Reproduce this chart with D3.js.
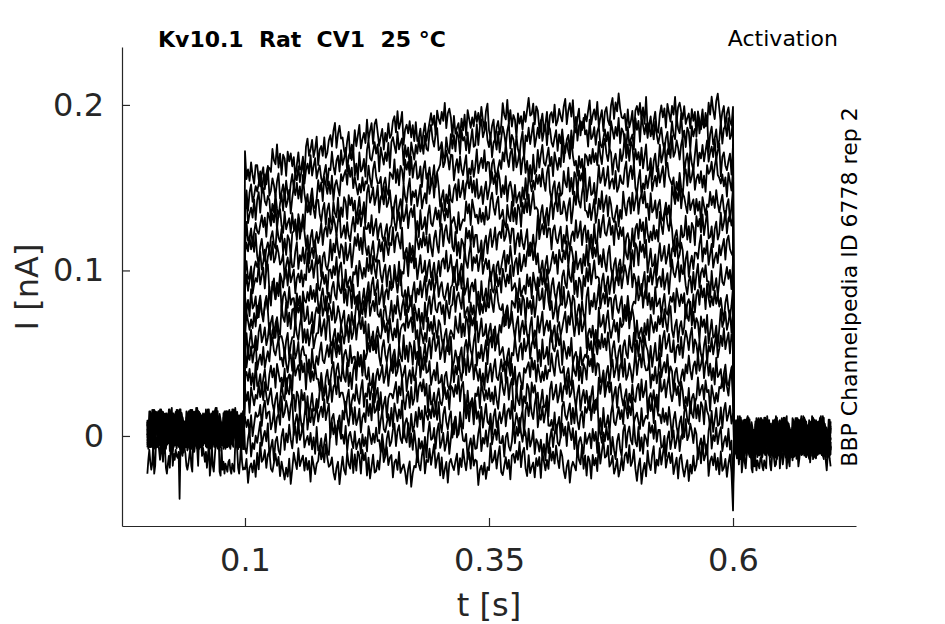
<!DOCTYPE html>
<html>
<head>
<meta charset="utf-8">
<script src="https://cdn.jsdelivr.net/npm/d3@7"></script>
<style>
  html, body { margin: 0; padding: 0; background: #fff; }
  svg { display: block; font-family: "DejaVu Sans", sans-serif; }
</style>
</head>
<body>
<svg id="chart" width="945" height="624"></svg>
<script>
// ---------- data ----------
const xTicks = [0.1, 0.35, 0.6];
const yTicks = [0, 0.1, 0.2];
const pulseKnotsT = [0.1, 0.15, 0.2, 0.3, 0.45, 0.6];   // s
const pulseLevels = [                                      // nA, one row per trace
  [0.156, 0.167, 0.178, 0.189, 0.193, 0.194],
  [0.146, 0.155, 0.165, 0.177, 0.182, 0.184],
  [0.136, 0.143, 0.152, 0.162, 0.168, 0.170],
  [0.125, 0.131, 0.138, 0.147, 0.153, 0.156],
  [0.114, 0.119, 0.125, 0.132, 0.138, 0.141],
  [0.103, 0.107, 0.111, 0.117, 0.122, 0.125],
  [0.092, 0.095, 0.098, 0.102, 0.107, 0.110],
  [0.081, 0.083, 0.085, 0.089, 0.093, 0.096],
  [0.070, 0.072, 0.074, 0.077, 0.080, 0.082],
  [0.059, 0.060, 0.062, 0.064, 0.066, 0.068],
  [0.047, 0.048, 0.049, 0.051, 0.052, 0.054],
  [0.035, 0.036, 0.037, 0.038, 0.039, 0.040],
  [0.023, 0.023, 0.024, 0.024, 0.025, 0.026],
  [0.011, 0.011, 0.011, 0.011, 0.012, 0.012],
  [-0.002, -0.002, -0.002, -0.002, -0.002, -0.002],
  [-0.017, -0.017, -0.017, -0.017, -0.016, -0.016]
];
const holdBefore = [0.004, 0.004, 0.003, 0.005, 0.004, 0.003, 0.004, 0.005, 0.003, 0.004, 0.004, 0.003, 0.005, 0.004, 0.002, -0.012];
const holdAfter  = [-0.001, 0.000, -0.002, 0.000, -0.001, -0.002, 0.000, -0.001, -0.002, 0.000, -0.001, -0.002, 0.000, -0.001, -0.003, -0.010];
// recording noise (pA), hand-typed
const noisePA = [3,-5,7,-2,-8,4,9,-1,-6,2,6,-9,1,5,-4,-7,8,0,-3,10,-6,3,-8,5,2,-10,6,-1,4,-5,
  7,-7,1,9,-3,-2,5,-9,3,8,-4,0,6,-6,-1,7,-8,2,4,-3,9,-5,-2,6,1,-7,3,8,-9,0,
  5,-4,7,-2,-6,4,10,-8,1,-3,6,-5,2,9,-7,-1,3,-4,8,-6,0,5,-9,4,7,-2,-5,1,6,-8,
  3,-3,9,-1,-7,2,5,-6,8,-4,0,7,-9,1,4,-2,6,-5,3,-8,10,-3,-1,5,-7,2,8,-4,-6,0,
  6,-2,4,-9,7,1,-5,3,-3,9,-8,2,5,-1,-6,8,-4,0,3,-7,6,-2,4,-10,7,1,-5,2,-4,6,-3];
// slow drift of each sweep (pA), hand-typed
const driftPA = [2,-4,5,1,-6,3,-2,7,-5,0,4,-3,6,-1,-7,2,5,-4,1,3,-6,4,-2,6,-3,0,5,-5,2,-1,7,-4,3,-6,1,4,-2,-5,6,0,-3];
// capacitive transients / outliers: [trace, t (s), I (nA)]
const transients = [[0, 0.1, 0.172], [15, 0.6, -0.045], [15, 0.033, -0.038], [14, 0.6, -0.03]];

// ---------- layout ----------
const svg = d3.select("#chart");
const x = d3.scaleLinear().domain([-0.026, 0.726]).range([122, 856]);
const y = d3.scaleLinear().domain([-0.0544, 0.235]).range([526, 47]);
const ink = "#262626";

// ---------- traces ----------
const N = noisePA.length, M = driftPA.length;
const line = d3.line().x(d => x(d[0])).y(d => y(d[1]));
const traces = pulseLevels.map((lv, k) => {
  const level = d3.scaleLinear().domain(pulseKnotsT).range(lv);
  const pts = [];
  let j = k * 37;
  for (let i = 0; i < 100; i++, j += 3) {
    const t = i * 0.001;
    pts.push([t, holdBefore[k] + noisePA[j % N] * 0.0012]);
  }
  for (let i = 0; i <= 320; i++, j += 1) {
    const t = 0.1 + i * 0.0015625;
    const drift = driftPA[(k * 11 + Math.floor(i / 8)) % M] * 0.0008;
    pts.push([t, level(Math.min(t, 0.6)) + noisePA[j % N] * 0.0009 + drift]);
  }
  for (let i = 1; i <= 100; i++, j += 3) {
    const t = 0.6 + i * 0.001;
    pts.push([t, holdAfter[k] + noisePA[j % N] * 0.0012]);
  }
  transients.filter(tr => tr[0] === k).forEach(tr => {
    let best = 0, bd = Infinity;
    pts.forEach((p, idx) => { const d = Math.abs(p[0] - tr[1]); if (d < bd) { bd = d; best = idx; } });
    pts[best] = [pts[best][0], tr[2]];
  });
  return pts;
});

svg.append("g").selectAll("path").data(traces).join("path")
  .attr("d", line)
  .attr("fill", "none")
  .attr("stroke", "#000")
  .attr("stroke-width", 1.8)
  .attr("stroke-linejoin", "round");

// ---------- axes ----------
const yAxis = d3.axisLeft(y).tickValues(yTicks).tickSize(-8).tickSizeOuter(0).tickPadding(18)
  .tickFormat(d => d === 0 ? "0" : d3.format(".1f")(d));
const gy = svg.append("g").attr("transform", "translate(122,0)").call(yAxis);
const xAxis = d3.axisBottom(x).tickValues(xTicks).tickSize(-8).tickSizeOuter(0).tickPadding(22)
  .tickFormat(d => String(d));
const gx = svg.append("g").attr("transform", "translate(0,526)").call(xAxis);
[gx, gy].forEach(g => {
  g.select(".domain").attr("stroke", ink).attr("stroke-width", 1.2);
  g.selectAll(".tick line").attr("stroke", ink).attr("stroke-width", 1.2);
  g.selectAll(".tick text").attr("fill", ink).style("font-size", "32px").style("font-family", "DejaVu Sans");
});

// ---------- labels ----------
svg.append("text").attr("x", 489).attr("y", 616).attr("text-anchor", "middle")
  .attr("fill", ink).style("font-size", "32px").text("t [s]");
svg.append("text").attr("transform", "translate(38,287) rotate(-90)").attr("text-anchor", "middle")
  .attr("fill", ink).style("font-size", "32px").text("I [nA]");
svg.append("text").attr("x", 158).attr("y", 47).attr("fill", "#000")
  .style("font-size", "22px").style("font-weight", "bold").style("white-space", "pre")
  .text("Kv10.1  Rat  CV1  25 °C");
svg.append("text").attr("x", 838).attr("y", 46).attr("text-anchor", "end").attr("fill", "#000")
  .style("font-size", "22px").text("Activation");
svg.append("text").attr("transform", "translate(857,287) rotate(-90)").attr("text-anchor", "middle")
  .attr("fill", "#000").style("font-size", "22px").text("BBP Channelpedia ID 6778 rep 2");
</script>
</body>
</html>
